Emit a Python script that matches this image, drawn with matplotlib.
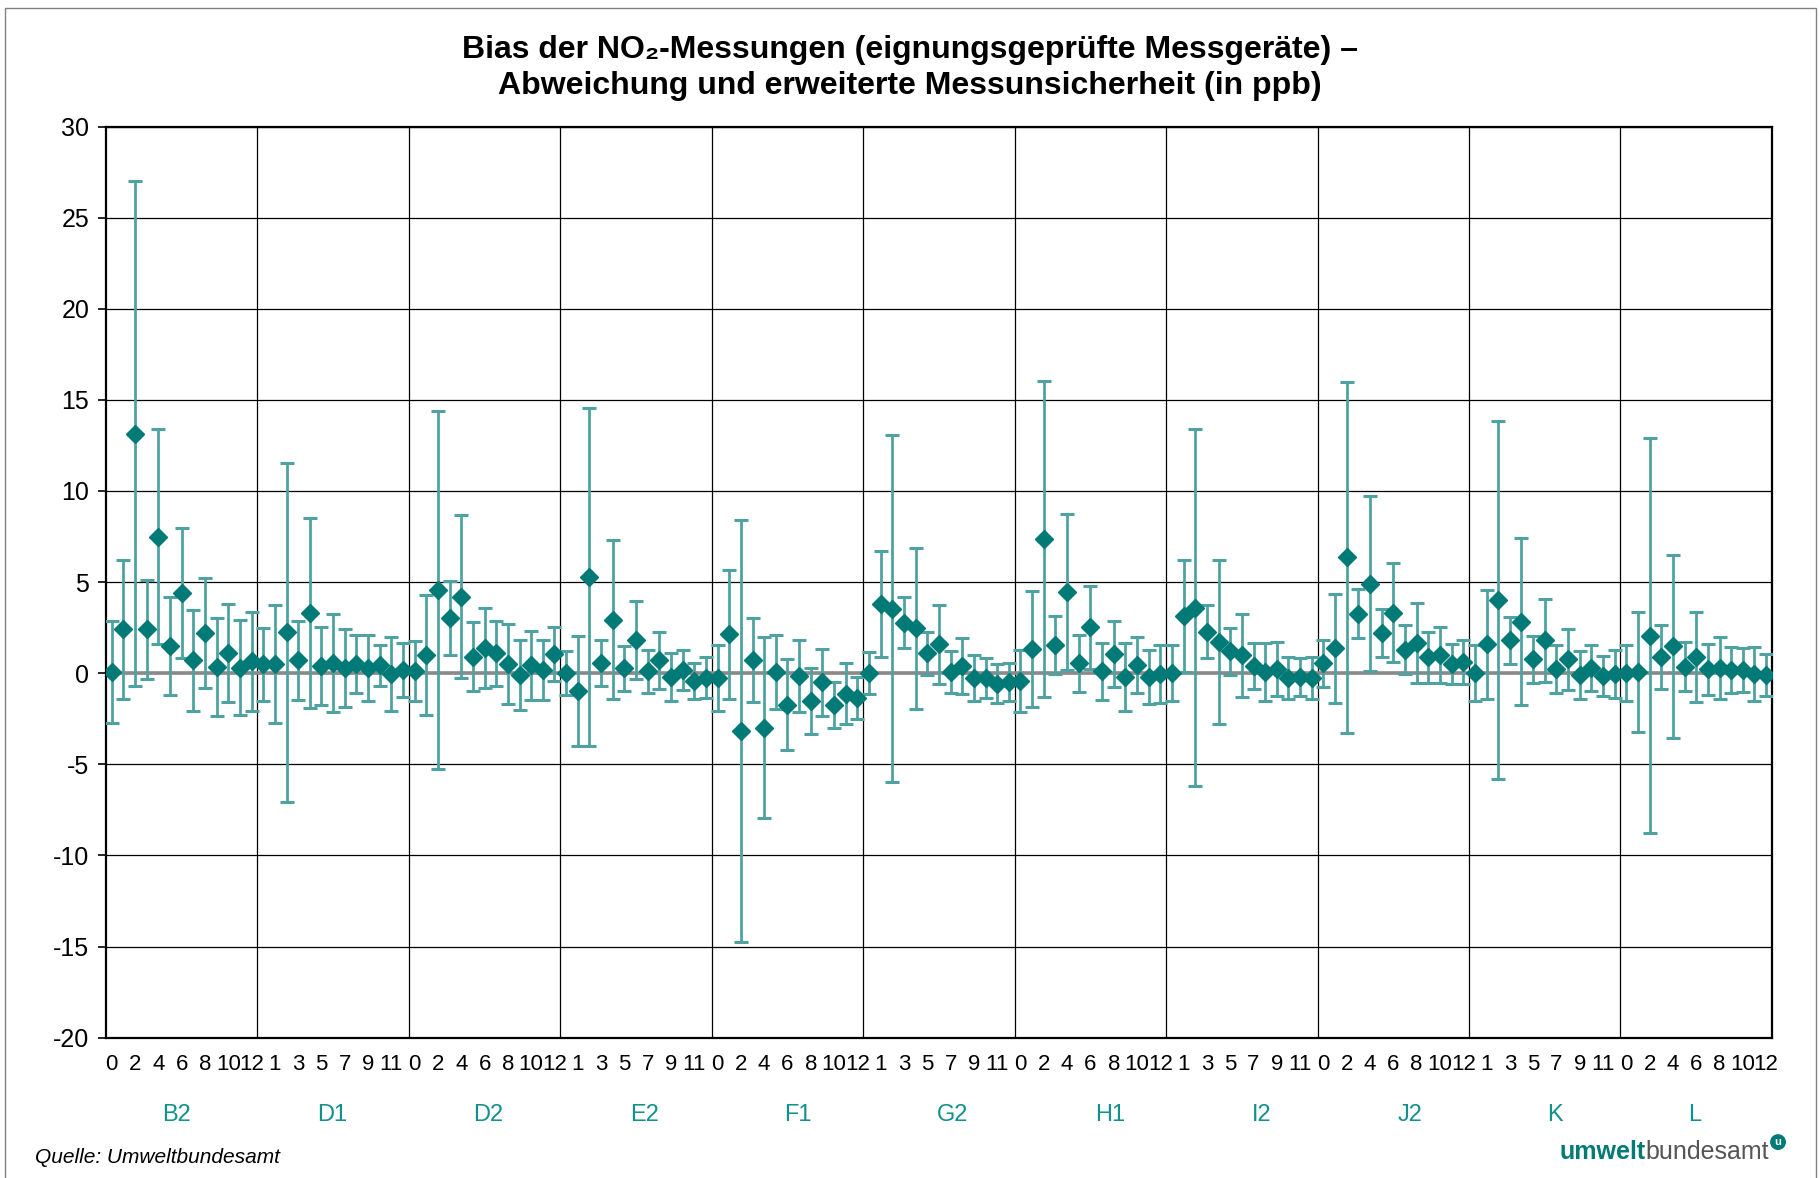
#!/usr/bin/env python3
from __future__ import annotations

from typing import List

import matplotlib

matplotlib.use("Agg")
import matplotlib.pyplot as plt
from matplotlib import font_manager
from matplotlib.patches import Rectangle
from matplotlib.transforms import blended_transform_factory

# instrument groups, 13 devices (0..12) each
groups = ["B2", "D1", "D2", "E2", "F1", "G2", "H1", "I2", "J2", "K", "L"]

# bias per device (ppb)
bias_b2 = [0.07, 2.4, 13.15, 2.4, 7.5, 1.5, 4.4, 0.7, 2.2, 0.35, 1.1, 0.3, 0.65]
bias_d1 = [0.5, 0.5, 2.24, 0.7, 3.3, 0.4, 0.56, 0.28, 0.5, 0.28, 0.43, -0.05, 0.2]
bias_d2 = [0.1, 1.0, 4.57, 3.04, 4.2, 0.9, 1.4, 1.1, 0.5, -0.1, 0.43, 0.17, 1.04]
bias_e2 = [0.02, -0.96, 5.28, 0.56, 2.93, 0.28, 1.85, 0.1, 0.72, -0.2, 0.17, -0.43, -0.24]
bias_f1 = [-0.26, 2.13, -3.15, 0.72, -2.98, 0.07, -1.72, -0.15, -1.54, -0.5, -1.74, -1.12, -1.36]
bias_g2 = [0.02, 3.8, 3.54, 2.78, 2.46, 1.09, 1.59, 0.07, 0.39, -0.26, -0.26, -0.59, -0.48]
bias_h1 = [-0.42, 1.33, 7.35, 1.54, 4.46, 0.54, 2.52, 0.1, 1.04, -0.22, 0.46, -0.2, -0.04]
bias_i2 = [0.02, 3.15, 3.6, 2.28, 1.74, 1.2, 0.98, 0.39, 0.07, 0.24, -0.26, -0.2, -0.26]
bias_j2 = [0.54, 1.37, 6.37, 3.26, 4.91, 2.2, 3.33, 1.3, 1.65, 0.87, 1.0, 0.5, 0.61]
bias_k = [0.02, 1.59, 4.02, 1.8, 2.83, 0.76, 1.8, 0.24, 0.76, -0.1, 0.28, -0.15, -0.04]
bias_l = [0.0, 0.07, 2.07, 0.87, 1.48, 0.35, 0.89, 0.22, 0.28, 0.17, 0.17, -0.04, -0.1]

# expanded measurement uncertainty per device (ppb)
unc_b2 = [2.8, 3.8, 13.85, 2.7, 5.9, 2.7, 3.55, 2.75, 3.0, 2.7, 2.7, 2.6, 2.7]
unc_d1 = [2.0, 3.23, 9.3, 2.15, 5.23, 2.13, 2.68, 2.15, 1.58, 1.8, 1.14, 2.03, 1.48]
unc_d2 = [1.65, 3.28, 9.8, 2.02, 4.47, 1.9, 2.2, 1.78, 2.18, 1.9, 1.88, 1.63, 1.49]
unc_e2 = [1.2, 3.02, 9.25, 1.25, 4.37, 1.24, 2.14, 1.2, 1.56, 1.33, 1.08, 0.97, 1.14]
unc_f1 = [1.8, 3.56, 11.58, 2.32, 4.96, 2.02, 2.52, 1.98, 1.8, 1.84, 1.25, 1.69, 1.16]
unc_g2 = [1.16, 2.92, 9.52, 1.4, 4.43, 1.17, 2.16, 1.17, 1.55, 1.27, 1.11, 1.07, 1.04]
unc_h1 = [1.7, 3.18, 8.67, 1.6, 4.27, 1.57, 2.28, 1.56, 1.8, 1.88, 1.52, 1.47, 1.6]
unc_i2 = [1.55, 3.07, 9.81, 1.46, 4.5, 1.3, 2.28, 1.27, 1.58, 1.49, 1.17, 1.05, 1.14]
unc_j2 = [1.28, 2.98, 9.63, 1.34, 4.81, 1.33, 2.72, 1.33, 2.2, 1.4, 1.55, 1.11, 1.22]
unc_k = [1.55, 3.0, 9.8, 1.29, 4.58, 1.28, 2.3, 1.31, 1.66, 1.3, 1.25, 1.09, 1.34]
unc_l = [1.55, 3.28, 10.86, 1.76, 5.03, 1.34, 2.48, 1.4, 1.72, 1.28, 1.2, 1.5, 1.15]

device_ids = list(range(13))

bias_all = [bias_b2, bias_d1, bias_d2, bias_e2, bias_f1, bias_g2,
            bias_h1, bias_i2, bias_j2, bias_k, bias_l]
unc_all = [unc_b2, unc_d1, unc_d2, unc_e2, unc_f1, unc_g2,
           unc_h1, unc_i2, unc_j2, unc_k, unc_l]

# group label nudges (in categories), like the Excel original
label_shift = [-0.4, -0.1, 0.3, 0.7, 0.9, 1.2, 1.7, 1.7, 1.4, 0.9, -0.1]

MARKER = "#007a77"
ERRCOL = "#4fa2a2"
LABELCOL = "#11908c"


def pick_family() -> List[str]:
    names = {f.name for f in font_manager.fontManager.ttflist}
    fams = [n for n in ("Liberation Sans Narrow", "Liberation Sans") if n in names]
    return fams + ["DejaVu Sans"]


def main() -> None:
    plt.rcParams["font.family"] = pick_family()
    plt.rcParams["axes.unicode_minus"] = False

    fig = plt.figure(figsize=(18.2, 11.78), dpi=100)
    ax = fig.add_axes([0.0582, 0.1191, 0.9154, 0.7735])

    n = len(device_ids)
    x: List[int] = []
    y: List[float] = []
    err: List[float] = []
    for g in range(len(groups)):
        for i in device_ids:
            x.append(g * n + i)
            y.append(bias_all[g][i])
            err.append(unc_all[g][i])

    ax.axhline(0, color="#8a8a8a", lw=2.6, zorder=2)
    ax.errorbar(x, y, yerr=err, fmt="D", ms=9, mfc=MARKER, mec=MARKER,
                ecolor=ERRCOL, elinewidth=2.0, capsize=5, capthick=2.2,
                zorder=3)

    total = n * len(groups)
    ax.set_xlim(-0.5, total - 0.5)
    ax.set_ylim(-20, 30)
    ax.set_yticks(range(-20, 31, 5))
    ax.yaxis.grid(True, color="black", lw=0.9)
    for g in range(1, len(groups)):
        ax.axvline(g * n - 0.5, color="black", lw=0.9, zorder=1)

    ticks = list(range(0, total, 2))
    ax.set_xticks(ticks)
    ax.set_xticklabels([str(t % n) for t in ticks])
    ax.tick_params(axis="x", length=0, pad=12, labelsize=16)
    ax.tick_params(axis="y", direction="out", length=6, width=1.2,
                   labelsize=18, pad=6)
    for sp in ax.spines.values():
        sp.set_linewidth(1.6)
        sp.set_color("black")

    trans = blended_transform_factory(ax.transData, ax.transAxes)
    for g, name in enumerate(groups):
        ax.text(g * n + (n - 1) / 2 + label_shift[g], -0.085, name,
                transform=trans, ha="center", va="center", fontsize=17,
                color=LABELCOL)

    fig.text(0.5, 0.9575, "Bias der NO\u2082-Messungen (eignungsgeprüfte Messgeräte) \u2013",
             ha="center", va="center", fontsize=23, fontweight="bold")
    fig.text(0.5, 0.927, "Abweichung und erweiterte Messunsicherheit (in ppb)",
             ha="center", va="center", fontsize=23, fontweight="bold")

    fig.text(0.019, 0.017, "Quelle: Umweltbundesamt", ha="left", va="center",
             fontsize=15, style="italic")

    bund = fig.text(0.972, 0.012, "bundesamt", ha="right", va="bottom",
                    fontsize=18, color="#555555")
    ax.annotate("umwelt", xy=(0, 0), xycoords=bund, ha="right", va="bottom",
                fontsize=18, fontweight="bold", color=MARKER,
                annotation_clip=False)
    ax.annotate("u", xy=(1, 1), xycoords=bund, xytext=(4, 2),
                textcoords="offset points", ha="left", va="top",
                fontsize=8, fontweight="bold", color="white",
                annotation_clip=False,
                bbox=dict(boxstyle="circle,pad=0.2", fc=MARKER, ec=MARKER))

    fig.patches.append(Rectangle((0.003, -0.01), 0.995, 1.0032,
                                 transform=fig.transFigure, fill=False,
                                 ec="#808080", lw=1.0))

    fig.savefig("out.png", dpi=100)
    plt.close(fig)


if __name__ == "__main__":
    main()
